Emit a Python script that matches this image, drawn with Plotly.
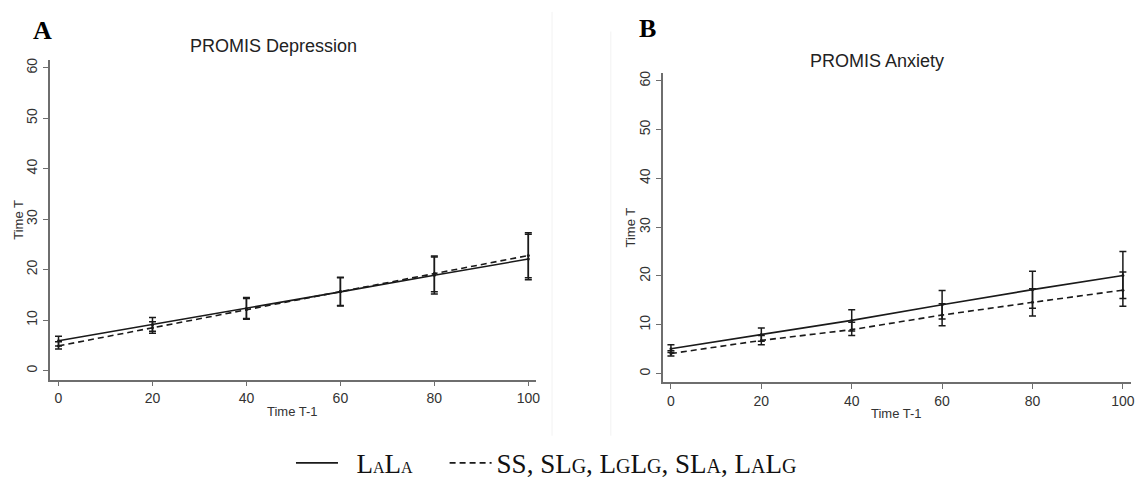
import plotly.graph_objects as go

# ---- data ----
x_vals = [0, 20, 40, 60, 80, 100]

# Panel A: PROMIS Depression
a_lala_y = [5.9, 9.1, 12.3, 15.6, 18.9, 22.1]
a_lala_lo = [4.9, 7.8, 10.3, 12.9, 15.6, 18.0]
a_lala_hi = [6.8, 10.5, 14.3, 18.4, 22.5, 27.0]
a_other_y = [4.9, 8.5, 12.1, 15.7, 19.3, 22.8]
a_other_lo = [4.3, 7.4, 10.2, 12.8, 15.2, 18.4]
a_other_hi = [5.7, 9.7, 14.5, 18.5, 22.7, 27.3]

# Panel B: PROMIS Anxiety
b_lala_y = [5.1, 8.0, 10.9, 14.1, 17.2, 20.1]
b_lala_lo = [4.3, 6.6, 8.7, 11.2, 13.4, 15.4]
b_lala_hi = [5.9, 9.35, 13.1, 17.0, 20.95, 25.0]
b_other_y = [4.1, 6.8, 9.0, 12.0, 14.6, 17.1]
b_other_lo = [3.6, 5.9, 7.8, 9.8, 11.8, 13.8]
b_other_hi = [4.7, 7.8, 10.5, 14.3, 17.4, 20.8]

y_ticks = [0, 10, 20, 30, 40, 50, 60]
x_ticks = [0, 20, 40, 60, 80, 100]

panel_titles = ["PROMIS Depression", "PROMIS Anxiety"]
panel_letters = ["A", "B"]
x_title = "Time T-1"
y_title = "Time T"

SM1 = '<span style="font-size:16px">{}</span>'
SM2 = '<span style="font-size:20px">{}</span>'
legend_names = [
    "&nbsp;&nbsp;L" + SM1.format("A") + "L" + SM1.format("A") + "&nbsp;" * 4,
    "SS, SL" + SM2.format("G") + ", L" + SM2.format("G") + "L" + SM2.format("G") + ", SL"
    + SM2.format("A") + ", L" + SM2.format("A") + "L" + SM2.format("G"),
]

# body margin is removed by the post script, so the figure fills the window
FW, FH = 1141, 488


def px(v):
    return v / FW


def py(v):
    return 1 - v / FH


LINE_COLOR = "#1a1a1a"
AX_COLOR = "#6e6e6e"
TICK_FONT = dict(family="Liberation Sans, Arial, sans-serif", size=14, color="#333333")

fig = go.Figure()


def add_panel(xa, ya, y1, lo1, hi1, y2, lo2, hi2, show_legend):
    fig.add_trace(go.Scatter(x=x_vals, y=y1, mode="lines", xaxis=xa, yaxis=ya,
                             line=dict(color=LINE_COLOR, width=1.6, dash="solid"),
                             name=legend_names[0], showlegend=show_legend, legendrank=1))
    fig.add_trace(go.Scatter(x=x_vals, y=y2, mode="lines", xaxis=xa, yaxis=ya,
                             line=dict(color=LINE_COLOR, width=1.6, dash="6px,4px"),
                             name=legend_names[1], showlegend=show_legend, legendrank=2))
    for yy, lo, hi in ((y1, lo1, hi1), (y2, lo2, hi2)):
        fig.add_trace(go.Scatter(
            x=x_vals, y=yy, mode="markers", xaxis=xa, yaxis=ya, showlegend=False,
            marker=dict(color=LINE_COLOR, size=3),
            error_y=dict(type="data", symmetric=False,
                         array=[h - v for h, v in zip(hi, yy)],
                         arrayminus=[v - l for v, l in zip(yy, lo)],
                         color=LINE_COLOR, thickness=1.5, width=3.5)))


add_panel("x", "y", a_lala_y, a_lala_lo, a_lala_hi, a_other_y, a_other_lo, a_other_hi, True)
add_panel("x2", "y2", b_lala_y, b_lala_lo, b_lala_hi, b_other_y, b_other_lo, b_other_hi, False)

axis_common = dict(showgrid=False, zeroline=False, showline=True, linecolor=AX_COLOR,
                   linewidth=1.5, ticks="outside", ticklen=5, tickwidth=1, tickcolor=AX_COLOR,
                   tickfont=TICK_FONT)

fig.update_layout(
    width=FW, height=FH,
    margin=dict(l=0, r=0, t=0, b=0),
    paper_bgcolor="white", plot_bgcolor="white",
    xaxis=dict(domain=[px(50), px(538)], range=[-1.85, 101.66], tickvals=x_ticks,
               anchor="y", **axis_common),
    yaxis=dict(domain=[py(383), py(59)], range=[-1.76, 61.5], tickvals=y_ticks,
               tickangle=-90, anchor="x", **axis_common),
    xaxis2=dict(domain=[px(665), px(1135)], range=[-1.83, 101.8], tickvals=x_ticks,
                anchor="y2", **axis_common),
    yaxis2=dict(domain=[py(385.7), py(72)], range=[-1.76, 61.6], tickvals=y_ticks,
                tickangle=-90, anchor="x2", **axis_common),
    showlegend=True,
    legend=dict(orientation="h", x=px(292), xanchor="left", y=py(468), yanchor="middle",
                font=dict(family="Liberation Serif, Times New Roman, serif", size=27, color="#111111"),
                itemwidth=42, bgcolor="rgba(0,0,0,0)", borderwidth=0, traceorder="normal"),
)

ann = []
for letter, xp, yp in zip(panel_letters, [43, 650], [29, 27]):
    ann.append(dict(text=f"<b>{letter}</b>", x=px(xp), y=py(yp), xref="paper", yref="paper",
                    showarrow=False, xanchor="center", yanchor="middle",
                    font=dict(family="Liberation Serif, Times New Roman, serif", size=26, color="#000")))
for t, xp, yp in zip(panel_titles, [274, 880], [45, 60]):
    ann.append(dict(text=t, x=px(xp), y=py(yp), xref="paper", yref="paper", showarrow=False,
                    xanchor="center", yanchor="middle",
                    font=dict(family="Liberation Sans, Arial, sans-serif", size=18, color="#222")))
for xp, yp in [(294, 415), (900, 417)]:
    ann.append(dict(text=x_title, x=px(xp), y=py(yp), xref="paper", yref="paper", showarrow=False,
                    xanchor="center", yanchor="middle",
                    font=dict(family="Liberation Sans, Arial, sans-serif", size=13, color="#333")))
for xp, yp in [(19, 221), (633, 229)]:
    ann.append(dict(text=y_title, x=px(xp), y=py(yp), xref="paper", yref="paper", showarrow=False,
                    xanchor="center", yanchor="middle", textangle=-90,
                    font=dict(family="Liberation Sans, Arial, sans-serif", size=13, color="#333")))
fig.update_layout(annotations=ann)

fig.add_shape(type="line", xref="paper", yref="paper", x0=px(554), x1=px(554), y0=py(440), y1=py(10),
              line=dict(color="#f2f2f2", width=1))
fig.add_shape(type="line", xref="paper", yref="paper", x0=px(613), x1=px(613), y0=py(440), y1=py(30),
              line=dict(color="#f2f2f2", width=1))

fig.write_html("out.html", config={"displayModeBar": False},
               post_script="document.body.style.margin='0';document.body.style.overflow='hidden';")
